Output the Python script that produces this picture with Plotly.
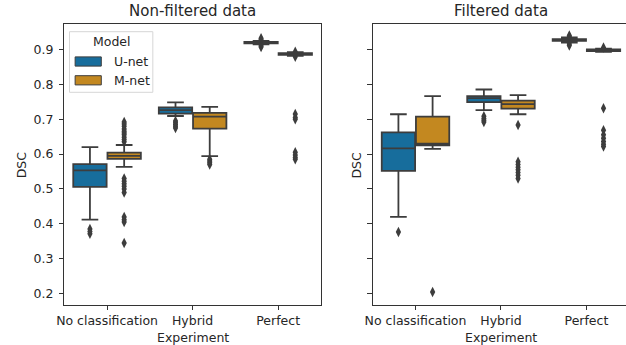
import plotly.graph_objects as go

W, H = 626, 345
categories = ["No classification", "Hybrid", "Perfect"]
models = ["U-net", "M-net"]
legend_title = "Model"

# Non-filtered data: [q1, median, q3, lowerfence, upperfence] per category
nf_unet_stats = [
    [0.506, 0.553, 0.571, 0.412, 0.620],
    [0.716, 0.726, 0.734, 0.709, 0.748],
    [0.917, 0.919, 0.921, 0.914, 0.924],
]
nf_mnet_stats = [
    [0.586, 0.595, 0.604, 0.563, 0.626],
    [0.673, 0.707, 0.718, 0.594, 0.735],
    [0.884, 0.886, 0.889, 0.881, 0.892],
]
nf_unet_outliers = [
    [0.385, 0.378, 0.372],
    [0.695, 0.69, 0.685, 0.68, 0.675],
    [0.932, 0.928, 0.910, 0.907],
]
nf_mnet_outliers = [
    [0.635, 0.642, 0.648, 0.655, 0.66, 0.665, 0.672, 0.68, 0.686, 0.692,
     0.53, 0.522, 0.515, 0.508, 0.50, 0.49, 0.42, 0.412, 0.405, 0.345],
    [0.585, 0.58, 0.575, 0.57],
    [0.893, 0.879, 0.715, 0.705, 0.70, 0.605, 0.597, 0.59, 0.585],
]

# Filtered data
f_unet_stats = [
    [0.552, 0.616, 0.662, 0.420, 0.714],
    [0.749, 0.760, 0.766, 0.726, 0.785],
    [0.924, 0.926, 0.929, 0.919, 0.934],
]
f_mnet_stats = [
    [0.625, 0.630, 0.707, 0.615, 0.766],
    [0.730, 0.743, 0.753, 0.714, 0.769],
    [0.895, 0.898, 0.900, 0.893, 0.902],
]
f_unet_outliers = [
    [0.377],
    [0.708, 0.702, 0.697, 0.692],
    [0.940, 0.936, 0.915, 0.911],
]
f_mnet_outliers = [
    [0.2046],
    [0.683, 0.578, 0.570, 0.562, 0.555, 0.547, 0.539, 0.530],
    [0.905, 0.731, 0.668, 0.655, 0.645, 0.636, 0.628, 0.622],
]

colors = ["#176d9c", "#c38820"]
line_col = "#3d3d3d"
text_col = "#262626"
FONT = "DejaVu Sans"
TICK_SIZE = 12.5
TITLE_SIZE = 15

fig = go.Figure()

panels = [
    ("x", "y", [nf_unet_stats, nf_mnet_stats], [nf_unet_outliers, nf_mnet_outliers]),
    ("x2", "y2", [f_unet_stats, f_mnet_stats], [f_unet_outliers, f_mnet_outliers]),
]
offsets = [-0.2, 0.2]

for xa, ya, stats_pair, out_pair in panels:
    for m, (stats, outs) in enumerate(zip(stats_pair, out_pair)):
        xs = [i + offsets[m] for i in range(len(categories))]
        fig.add_trace(go.Box(
            x=xs,
            q1=[s[0] for s in stats],
            median=[s[1] for s in stats],
            q3=[s[2] for s in stats],
            lowerfence=[s[3] for s in stats],
            upperfence=[s[4] for s in stats],
            width=0.39,
            whiskerwidth=0.5,
            fillcolor=colors[m],
            line=dict(color=line_col, width=1.8),
            boxpoints=False,
            name=models[m],
            showlegend=False,
            xaxis=xa, yaxis=ya,
            hoverinfo="skip",
        ))
        ox, oy = [], []
        for i, vals in enumerate(outs):
            for v in vals:
                ox.append(i + offsets[m])
                oy.append(v)
        fig.add_trace(go.Scatter(
            x=ox, y=oy, mode="markers",
            marker=dict(symbol="diamond-tall", size=7.5, color=line_col,
                        line=dict(width=0)),
            showlegend=False, xaxis=xa, yaxis=ya, hoverinfo="skip",
        ))

yrange = [0.169, 0.9726]
ydom = [1 - 304.5 / H, 1 - 24 / H]
common_x = dict(
    tickmode="array", tickvals=[0, 1, 2], ticktext=categories,
    ticks="outside", ticklen=4.4, tickwidth=1, tickcolor="#333",
    showline=True, linecolor="#333", linewidth=1, mirror=True,
    showgrid=False, zeroline=False,
    tickfont=dict(family=FONT, size=TICK_SIZE, color=text_col),
)
common_y = dict(
    range=yrange, domain=ydom,
    tickmode="array", tickvals=[0.2, 0.3, 0.4, 0.5, 0.6, 0.7, 0.8, 0.9],
    ticks="outside", ticklen=4.4, tickwidth=1, tickcolor="#333",
    showline=True, linecolor="#333", linewidth=1,
    showgrid=False, zeroline=False,
    tickfont=dict(family=FONT, size=TICK_SIZE, color=text_col),
)

fig.update_layout(
    width=W, height=H,
    margin=dict(l=0, r=0, t=0, b=0),
    paper_bgcolor="white", plot_bgcolor="white",
    xaxis=dict(common_x, domain=[57 / W, 317 / W], range=[-0.5, 2.5]),
    xaxis2=dict(common_x, domain=[369.5 / W, 1.0], range=[-0.5, 2.463], anchor="y2"),
    yaxis=dict(common_y, mirror=True, tickformat=".1f", ticklabelstandoff=3),
    yaxis2=dict(common_y, mirror=False, showticklabels=False, anchor="x2"),
    showlegend=False,
    font=dict(family=FONT, size=TICK_SIZE, color=text_col),
)

def px(x):
    return x / W

def py(y):
    return 1 - y / H

# Legend (drawn in paper coordinates)
fig.add_shape(type="rect", xref="paper", yref="paper",
              x0=px(62.3), x1=px(146.7), y0=py(92.3), y1=py(31.7),
              line=dict(color="#d6d6d6", width=1), fillcolor="rgba(255,255,255,0.85)")
fig.add_annotation(text=legend_title, x=px(105), y=py(41.7), xref="paper", yref="paper",
                   xanchor="center", yanchor="middle", showarrow=False,
                   font=dict(family=FONT, size=TICK_SIZE, color=text_col))
legend_rows = [61.5, 80.3]
for m, yc in enumerate(legend_rows):
    fig.add_shape(type="rect", xref="paper", yref="paper",
                  x0=px(68), x1=px(94.5), y0=py(yc + 4.6), y1=py(yc - 4.6),
                  line=dict(color=line_col, width=1), fillcolor=colors[m])
    fig.add_annotation(text=models[m], x=px(105.5), y=py(yc), xref="paper", yref="paper",
                       xanchor="left", yanchor="middle", showarrow=False,
                       font=dict(family=FONT, size=TICK_SIZE, color=text_col))

annots = [
    dict(text="Non-filtered data", x=187, y=11.5, size=TITLE_SIZE),
    dict(text="Filtered data", x=499, y=11.5, size=TITLE_SIZE),
    dict(text="Experiment", x=187, y=337, size=TICK_SIZE),
    dict(text="Experiment", x=499, y=337, size=TICK_SIZE),
]
for a in annots:
    fig.add_annotation(text=a["text"], x=px(a["x"]), y=py(a["y"]), xref="paper", yref="paper",
                       xanchor="center", yanchor="middle", showarrow=False,
                       font=dict(family=FONT, size=a["size"], color=text_col))
for xp in [13.5, 352]:
    fig.add_annotation(text="DSC", x=px(xp), y=py(165), xref="paper", yref="paper",
                       xanchor="center", yanchor="middle", showarrow=False, textangle=-90,
                       font=dict(family=FONT, size=TICK_SIZE, color=text_col))

fig.write_html("out.html",
               config={"displayModeBar": False, "staticPlot": True},
               post_script="document.body.style.margin='0';document.body.style.overflow='hidden';")
